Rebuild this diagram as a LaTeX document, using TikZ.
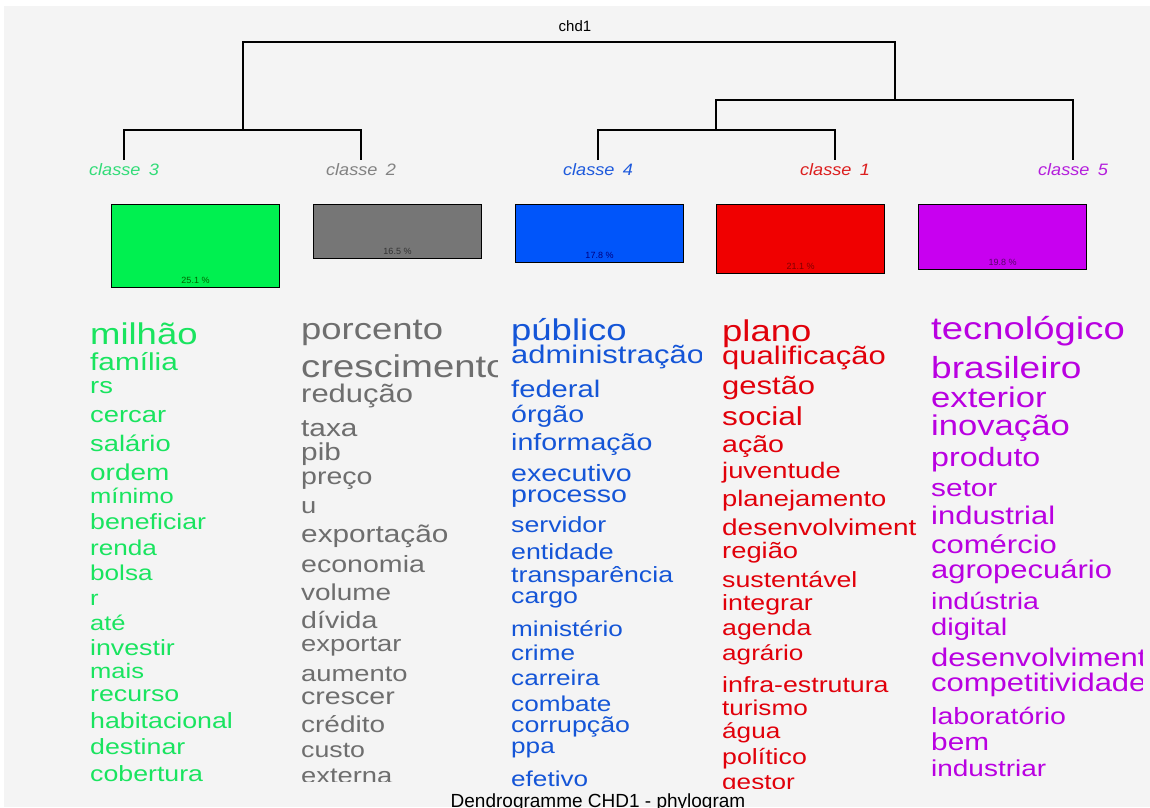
\documentclass[tikz,border=0pt]{standalone}
\usepackage{fontspec}
\setmainfont{Liberation Sans}
\newfontfamily\cloudfont[FakeStretch=1.215]{Liberation Sans}
\newfontfamily\classfont[FakeStretch=1.1]{Liberation Sans}
\usepackage{tikz}
\usetikzlibrary{positioning}

\definecolor{paper}{RGB}{244,244,244}
\definecolor{greenW}{RGB}{25,228,95}
\definecolor{grayW}{RGB}{110,110,110}
\definecolor{blueW}{RGB}{20,85,215}
\definecolor{redW}{RGB}{225,0,10}
\definecolor{purpleW}{RGB}{185,0,225}
\definecolor{greenB}{RGB}{0,240,80}
\definecolor{grayB}{RGB}{118,118,118}
\definecolor{blueB}{RGB}{0,85,250}
\definecolor{redB}{RGB}{240,0,0}
\definecolor{purpleB}{RGB}{200,0,240}
\definecolor{greenL}{RGB}{50,220,120}
\definecolor{grayL}{RGB}{130,130,130}
\definecolor{blueL}{RGB}{30,90,220}
\definecolor{redL}{RGB}{220,30,30}
\definecolor{purpleL}{RGB}{180,30,220}

\tikzset{word/.style = {anchor = base west, inner sep = 0}}
\tikzset{cls/.style = {anchor = base, inner sep = 0, outer sep = 3pt,
                       font = \classfont\itshape\fontsize{16.5}{16.5}\selectfont}}
\tikzset{bar/.style = {draw, line width = 1pt, anchor = north west,
                       minimum width = 168pt, inner sep = 0}}
\tikzset{pct/.style = {inner sep = 0, font = \fontsize{9}{9}\selectfont}}
\tikzset{tree/.style = {line width = 1.1pt}}

\begin{document}
\begin{tikzpicture}[x = 1pt, y = -1pt]
      \useasboundingbox (0, 0) rectangle (1150, 807);
      \fill [white] (0, 0) rectangle (1150, 807);
      \fill [paper] (4, 6) rectangle (1150, 807);

      % dendrogram
      \node (chd) at (575, 31) [anchor = base, inner sep = 0, font = \fontsize{15}{15}\selectfont] {chd1};
      \node (c3) at (124, 175) [cls, text = greenL] {classe\enspace 3};
      \node (c2) at (361, 175) [cls, text = grayL] {classe\enspace 2};
      \node (c4) at (598, 175) [cls, text = blueL] {classe\enspace 4};
      \node (c1) at (835, 175) [cls, text = redL] {classe\enspace 1};
      \node (c5) at (1073, 175) [cls, text = purpleL] {classe\enspace 5};
      \coordinate (jA) at (243, 130);
      \coordinate (jB) at (716, 130);
      \coordinate (jC) at (895, 100);
      \coordinate (top) at (575, 42);
      \draw [tree] (c3.north) |- (jA) -| (c2.north);
      \draw [tree] (c4.north) |- (jB) -| (c1.north);
      \draw [tree] (jB) |- (jC) -| (c5.north);
      \draw [tree] (jA) |- (top) -| (jC);

      % class sizes
      \node (b3) at (111, 204) [bar, fill = greenB, minimum height = 83pt] {};
      \node (b2) at (313, 204) [bar, fill = grayB, minimum height = 54pt] {};
      \node (b4) at (515, 204) [bar, fill = blueB, minimum height = 58pt] {};
      \node (b1) at (716, 204) [bar, fill = redB, minimum height = 69pt] {};
      \node (b5) at (918, 204) [bar, fill = purpleB, minimum height = 65pt] {};
      \node (p3) [pct, text = green!40!black, above = 4pt of b3.south] {25.1 \%};
      \node (p2) [pct, text = black!80, above = 4pt of b2.south] {16.5 \%};
      \node (p4) [pct, text = blue!50!black, above = 4pt of b4.south] {17.8 \%};
      \node (p1) [pct, text = red!50!black, above = 4pt of b1.south] {21.1 \%};
      \node (p5) [pct, text = purpleB!45!black, above = 4pt of b5.south] {19.8 \%};

      % word lists
      \begin{scope}
        \clip (85, 300) rectangle (298, 800);
        \foreach \y/\s/\t [count = \i] in {344/30/milhão, 370/24.5/família, 393/22.5/rs,
            422/22.5/cercar, 451/22.5/salário, 480/23/ordem, 503/21/mínimo,
            529/22/beneficiar, 555/21.5/renda, 580/21.5/bolsa, 605/21/r, 630/21/até,
            655/22/investir, 678/21/mais, 701/22/recurso, 728/22/habitacional,
            754/22/destinar, 781/22/cobertura}
          \node (gw\i) at (90, \y) [word, text = greenW, font = {\cloudfont\fontsize{\s}{\s}\selectfont}] {\t};
      \end{scope}
      \begin{scope}
        \clip (295, 300) rectangle (497, 781);
        \foreach \y/\s/\t [count = \i] in {339/30/porcento, 377/31.5/crescimento,
            402/25.5/redução, 436/24.5/taxa, 460/24.5/pib, 484/23.5/preço, 513/22.5/u,
            542/24.5/exportação, 572/23.5/economia, 600/23/volume, 628/23.5/dívida,
            651/22.5/exportar, 681/22.5/aumento, 704/23.5/crescer, 732/23/crédito,
            757/22/custo, 783/22.5/externa}
          \node (sw\i) at (301, \y) [word, text = grayW, font = {\cloudfont\fontsize{\s}{\s}\selectfont}] {\t};
      \end{scope}
      \begin{scope}
        \clip (505, 300) rectangle (701, 800);
        \foreach \y/\s/\t [count = \i] in {340/30/público, 363/25.5/administração,
            397/24/federal, 422/23.5/órgão, 450/23.5/informação, 481/23.5/executivo,
            502/23.5/processo, 532/22/servidor, 559/22/entidade, 582/22/transparência,
            603/22/cargo, 636/21.5/ministério, 660/21.5/crime, 685/21.5/carreira,
            711/21.5/combate, 732/22/corrupção, 753/21.5/ppa, 786/21.5/efetivo}
          \node (bw\i) at (511, \y) [word, text = blueW, font = {\cloudfont\fontsize{\s}{\s}\selectfont}] {\t};
      \end{scope}
      \begin{scope}
        \clip (715, 300) rectangle (916, 788);
        \foreach \y/\s/\t [count = \i] in {341/30/plano, 364/25.5/qualificação,
            394/25.5/gestão, 425/26/social, 452/23.5/ação, 478/22.5/juventude,
            506/22.5/planejamento, 535/23/desenvolvimento, 558/22.5/região,
            587/22/sustentável, 610/22/integrar, 635/22/agenda, 660/21.5/agrário,
            692/22/infra-estrutura, 715/21.5/turismo, 738/21.5/água, 764/22/político,
            789/21.5/gestor}
          \node (rw\i) at (722, \y) [word, text = redW, font = {\cloudfont\fontsize{\s}{\s}\selectfont}] {\t};
      \end{scope}
      \begin{scope}
        \clip (925, 300) rectangle (1142, 797);
        \foreach \y/\s/\t [count = \i] in {339/31.5/tecnológico, 378/30.5/brasileiro,
            407/28.5/exterior, 435/28.5/inovação, 466/26.5/produto, 496/24.5/setor,
            524/25.5/industrial, 553/25.5/comércio, 578/25.5/agropecuário, 609/23.5/indústria,
            635/24/digital, 666/25.5/desenvolvimento, 691/25.5/competitividade,
            724/23.5/laboratório, 750/24.5/bem, 776/23/industriar}
          \node (pw\i) at (931, \y) [word, text = purpleW, font = {\cloudfont\fontsize{\s}{\s}\selectfont}] {\t};
      \end{scope}

      \node (caption) at (598, 807) [anchor = base, inner sep = 0, font = \fontsize{19}{19}\selectfont] {Dendrogramme CHD1 - phylogram};
    \end{tikzpicture}
\end{document}
